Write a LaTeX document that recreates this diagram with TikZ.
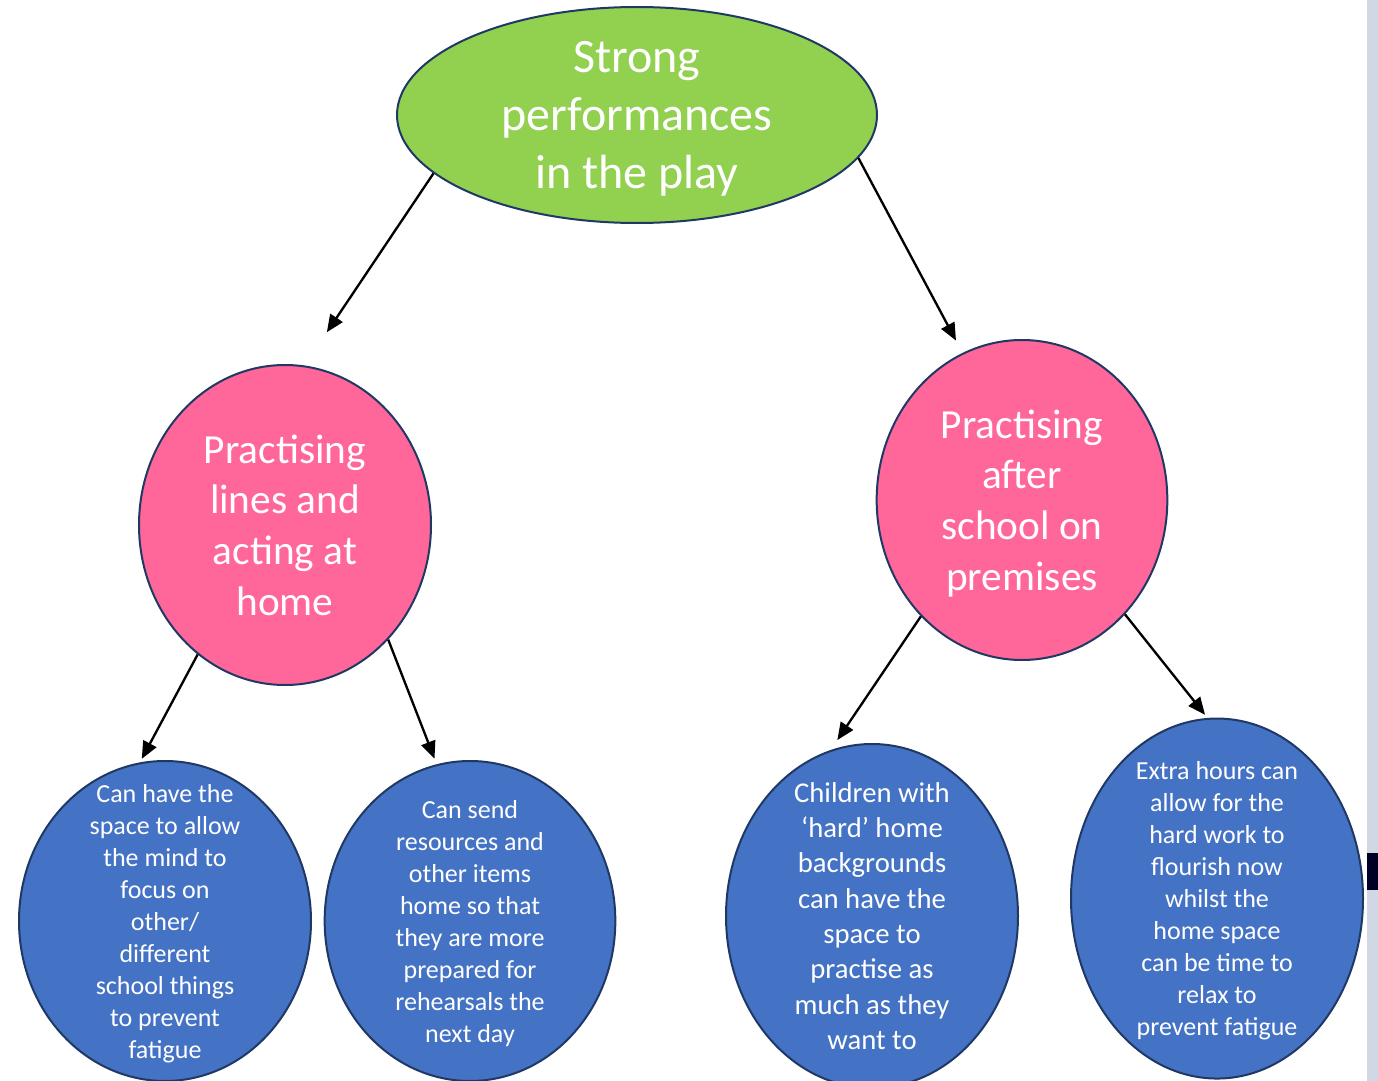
\documentclass[tikz,border=0pt]{standalone}
\usepackage{fontspec}
\setmainfont{Carlito}
\usetikzlibrary{positioning,shapes.geometric,arrows.meta}
\definecolor{leafgreen}{HTML}{92D050}
\definecolor{rosepink}{HTML}{FF6699}
\definecolor{ideablue}{HTML}{4472C4}
\definecolor{rimnavy}{HTML}{1F3864}
\definecolor{edgegrey}{HTML}{D0D7E5}
\tikzset{
	bubble/.style={ellipse,draw=rimnavy,line width=1.5pt,text=white,align=center,inner sep=-60pt,text depth=0pt},
	aim/.style={bubble,fill=leafgreen,minimum width=360pt,minimum height=162pt,font=\fontsize{36}{43.5}\selectfont},
	way/.style={bubble,fill=rosepink,minimum width=219pt,minimum height=240pt,font=\fontsize{31}{38}\selectfont},
	gain/.style={bubble,fill=ideablue,minimum width=219pt,minimum height=240pt,font=\fontsize{19.5}{24}\selectfont},
	link/.style={line width=1.75pt,-{Triangle[length=13pt,width=11pt]}}
}

\begin{document}
\begin{tikzpicture}[x=0.75pt,y=-0.75pt]
	\useasboundingbox (0,0) rectangle (1378,1081);
	% page edge
	\fill[edgegrey] (1367,0) rectangle (1378,1081);
	\fill[black!85!blue] (1367,853) rectangle (1378,890);
	%% top
	\node[aim] (s) at (637,115) {Strong\\performances\\in the play};
	%% second row
	\node[way,on grid,below left =307.5pt and 264pt of s] (p1) {Practising\\lines and\\acting at\\home};
	\node[way,on grid,below right =288.75pt and 288.75pt of s,minimum width=218pt] (p2) {Practising\\after\\school on\\premises};
	%% third row
	\node[gain,on grid,below left =297pt and 90pt of p1] (c1) {Can have the\\space to allow\\the mind to\\focus on\\other/\\different\\school things\\to prevent\\fatigue};
	\node[gain,on grid,below right =297pt and 138.75pt of p1,minimum width=218pt] (c2) {Can send\\resources and\\other items\\home so that\\they are more\\prepared for\\rehearsals the\\next day};
	\node[gain,on grid,below left =312pt and 112.5pt of p2,minimum height=258pt,font=\fontsize{21.5}{26.5}\selectfont] (c3) {Children with\\‘hard’ home\\backgrounds\\can have the\\space to\\practise as\\much as they\\want to};
	\node[gain,on grid,below right =298.9pt and 146.25pt of p2,minimum height=270pt] (c4) {Extra hours can\\allow for the\\hard work to\\flourish now\\whilst the\\home space\\can be time to\\relax to\\prevent fatigue};
	% arrows
	\draw[link,shorten >=30pt] (s.196) -- (p1.83);
	\draw[link,shorten >=10.5pt] (s.349) -- (p2.112.6);
	\draw[link,shorten >=3pt] (p1.236) -- (c1.99.7);
	\draw[link,shorten >=4.5pt] (p1.312.4) -- (c2.102.3);
	\draw[link,shorten >=9pt] (p2.229.4) -- (c3.104);
	\draw[link,shorten >=3pt] (p2.312.6) -- (c4.93.4);
\end{tikzpicture}
\end{document}
